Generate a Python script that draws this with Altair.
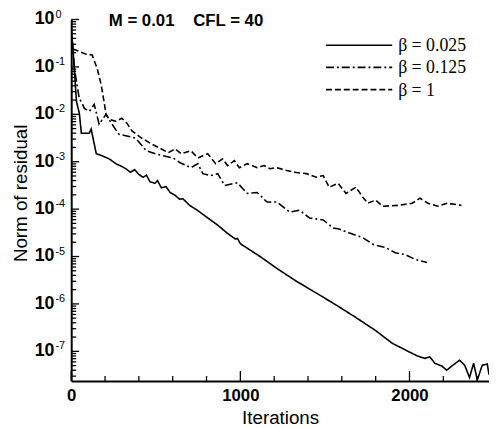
import altair as alt
import pandas as pd

# ---- data ----
labels = ["β = 0.025", "β = 0.125", "β = 1"]

it_a = [0, 8, 31, 48, 60, 107, 118, 148, 183, 224, 264, 300, 323, 350, 375, 399, 425, 445,
        465, 495, 510, 533, 560, 585, 615, 640, 660, 700, 749, 800, 866, 920, 970, 983, 1000,
        1117, 1216, 1332, 1449, 1566, 1682, 1799, 1898, 1992, 2050, 2090, 2120, 2150, 2191,
        2220, 2250, 2296, 2326, 2355, 2379, 2401, 2430, 2460, 2470]
res_a = [5.0e-1, 3.2e-1, 1.86e-2, 1.05e-2, 4.0e-3, 4.0e-3, 4.9e-3, 1.48e-3, 1.33e-3, 1.15e-3,
         9.1e-4, 7.9e-4, 7.1e-4, 6.0e-4, 6.8e-4, 5.4e-4, 4.7e-4, 5.2e-4, 3.8e-4, 3.5e-4,
         4.0e-4, 2.8e-4, 3.0e-4, 2.24e-4, 1.95e-4, 1.62e-4, 1.66e-4, 1.2e-4, 9.3e-5, 6.8e-5,
         4.6e-5, 3.16e-5, 2.34e-5, 2.4e-5, 1.86e-5, 1.0e-5, 5.6e-6, 3.0e-6, 1.7e-6, 9.5e-7,
         5.2e-7, 2.75e-7, 1.48e-7, 1.0e-7, 7.9e-8, 7.1e-8, 7.6e-8, 5.6e-8, 4.9e-8, 4.0e-8,
         4.9e-8, 6.5e-8, 5.1e-8, 2.8e-8, 5.6e-8, 2.5e-8, 5.1e-8, 5.4e-8, 3.2e-8]

it_b = [0, 19, 48, 60, 78, 107, 136, 165, 206, 241, 282, 329, 381, 410, 445, 498, 545, 603,
        644, 708, 749, 778, 825, 866, 907, 982, 1041, 1099, 1158, 1216, 1292, 1350, 1409,
        1490, 1549, 1584, 1642, 1724, 1788, 1858, 1916, 1975, 2033, 2103]
res_b = [7.1e-1, 9.1e-2, 2.1e-2, 1.86e-2, 1.33e-2, 1.15e-2, 1.62e-2, 6.2e-3, 1.0e-2, 6.2e-3,
         3.8e-3, 3.47e-3, 3.16e-3, 2.37e-3, 1.7e-3, 1.48e-3, 1.33e-3, 1.2e-3, 9.5e-4, 7.5e-4,
         9.1e-4, 5.6e-4, 5.1e-4, 5.6e-4, 3.16e-4, 3.6e-4, 2.14e-4, 2.24e-4, 1.41e-4, 1.41e-4,
         8.7e-5, 9.5e-5, 6.5e-5, 5.9e-5, 4.0e-5, 3.8e-5, 3.16e-5, 2.5e-5, 1.78e-5, 1.55e-5,
         1.2e-5, 1.1e-5, 8.7e-6, 7.5e-6]

it_c = [0, 8, 89, 124, 154, 177, 194, 206, 224, 264, 299, 329, 358, 416, 475, 533, 574, 615,
        650, 708, 749, 807, 854, 895, 924, 965, 994, 1041, 1099, 1140, 1175, 1216, 1274, 1332,
        1391, 1449, 1490, 1525, 1578, 1625, 1683, 1724, 1753, 1800, 1840, 1934, 2016, 2062,
        2109, 2167, 2225, 2307]
res_c = [5.6e-1, 2.4e-1, 1.86e-1, 1.78e-1, 9.1e-2, 4.2e-2, 1.86e-2, 1.0e-2, 7.9e-3, 7.1e-3,
         8.3e-3, 6.5e-3, 4.5e-3, 3.16e-3, 2.37e-3, 1.86e-3, 1.55e-3, 1.86e-3, 1.48e-3, 1.7e-3,
         1.2e-3, 1.48e-3, 9.1e-4, 1.15e-3, 8.3e-4, 1.05e-3, 7.5e-4, 9.1e-4, 7.5e-4, 8.3e-4,
         7.1e-4, 7.5e-4, 6.5e-4, 5.9e-4, 5.6e-4, 4.7e-4, 5.1e-4, 2.9e-4, 3.5e-4, 2.14e-4,
         2.9e-4, 1.78e-4, 1.33e-4, 1.55e-4, 1.15e-4, 1.2e-4, 1.33e-4, 1.7e-4, 1.33e-4,
         1.15e-4, 1.33e-4, 1.2e-4]

x_major = [0, 1000, 2000]
x_minor = [200, 400, 600, 800, 1200, 1400, 1600, 1800, 2200, 2400]
decades = [0, -1, -2, -3, -4, -5, -6, -7]
Y_MIN, Y_MAX = 2.37e-8, 1.0
X_MAX = 2470

dashes = [[1, 0], [8, 3, 2, 3], [6, 3]]

# ---- build tables ----
rows = []
for lab, xs, ys in zip(labels, [it_a, it_b, it_c], [res_a, res_b, res_c]):
    for i, (x, y) in enumerate(zip(xs, ys)):
        rows.append({"it": x, "res": y, "beta": lab, "k": i})
df = pd.DataFrame(rows)

y_minor = []
for d in range(-8, 0):
    for m in range(2, 10):
        v = m * 10.0 ** d
        if Y_MIN <= v <= Y_MAX:
            y_minor.append(v)

W, H = 423, 366
FONT = "Liberation Sans"

xscale = alt.Scale(domain=[0, X_MAX], nice=False, zero=False)
yscale = alt.Scale(type="log", domain=[Y_MIN, Y_MAX], nice=False)

xaxis = alt.Axis(values=x_major, format="d", ticks=False, grid=False, domainColor="black",
                 domainWidth=2, labelFont=FONT, labelFontSize=17,
                 labelFontWeight="bold", labelColor="black", labelPadding=7,
                 labelFlush=False, title="Iterations", titleFont=FONT,
                 titleFontSize=19, titleFontWeight="normal", titleColor="black",
                 titlePadding=5)
yaxis = alt.Axis(labels=False, ticks=False, grid=False, domainColor="black",
                 domainWidth=2, title=None)

X = alt.X("it:Q", scale=xscale, axis=xaxis)
Y = alt.Y("res:Q", scale=yscale, axis=yaxis)

lines = alt.Chart(df).mark_line(color="black", strokeWidth=1.6, clip=True).encode(
    x=X, y=Y,
    strokeDash=alt.StrokeDash("beta:N", scale=alt.Scale(domain=labels, range=dashes),
                              legend=None),
    order="k:Q",
)

def xticks(vals, ln):
    return alt.Chart(pd.DataFrame({"it": vals})).mark_rule(color="black", strokeWidth=1.3).encode(
        x=X, y=alt.value(H), y2=alt.value(H - ln))

def yticks(vals, ln):
    return alt.Chart(pd.DataFrame({"res": vals})).mark_rule(color="black", strokeWidth=1.3).encode(
        y=Y, x=alt.value(0), x2=alt.value(ln))

dec_df = pd.DataFrame({"res": [10.0 ** d for d in decades],
                       "exp": [str(d) for d in decades]})
ylab_base = alt.Chart(dec_df).mark_text(align="right", baseline="middle", font=FONT,
                                        fontSize=18, fontWeight="bold", color="black").encode(
    y=Y, x=alt.value(-17), text=alt.value("10"))
ylab_exp = alt.Chart(dec_df).mark_text(align="left", baseline="middle", font=FONT,
                                       fontSize=11, color="black", dy=-5).encode(
    y=Y, x=alt.value(-16), text="exp:N")

one = pd.DataFrame({"a": [0]})
ytitle = alt.Chart(one).mark_text(angle=270, align="center", baseline="middle", font=FONT,
                                  fontSize=19, color="black").encode(
    x=alt.value(-51), y=alt.value(176), text=alt.value("Norm of residual"))
title = alt.Chart(one).mark_text(align="left", baseline="middle", font=FONT, fontSize=17,
                                 fontWeight="bold", color="black").encode(
    x=alt.value(38), y=alt.value(1.5),
    text=alt.value("M = 0.01\u00a0\u00a0\u00a0 CFL = 40"))

legend_layers = []
for i, (lab, dash) in enumerate(zip(labels, dashes)):
    yy = 26 + 22.5 * i
    legend_layers.append(alt.Chart(one).mark_rule(color="black", strokeWidth=1.6,
                                                   strokeDash=dash).encode(
        x=alt.value(258), x2=alt.value(325), y=alt.value(yy)))
    legend_layers.append(alt.Chart(one).mark_text(align="left", baseline="middle",
                                                  font="Liberation Serif", fontSize=18,
                                                  color="black").encode(
        x=alt.value(331), y=alt.value(yy + 1), text=alt.value(lab)))

chart = alt.layer(
    lines, xticks(x_major, 10), xticks(x_minor, 5), yticks([10.0 ** d for d in decades], 8),
    yticks(y_minor, 5), ylab_base, ylab_exp, ytitle, title, *legend_layers
).properties(
    width=W, height=H,
    autosize=alt.AutoSizeParams(type="none"),
    padding={"left": 64, "top": 9, "right": 0, "bottom": 47},
    background="white",
).configure_view(stroke=None)

chart.save("out.html", embed_options={"renderer": "svg", "actions": False})
